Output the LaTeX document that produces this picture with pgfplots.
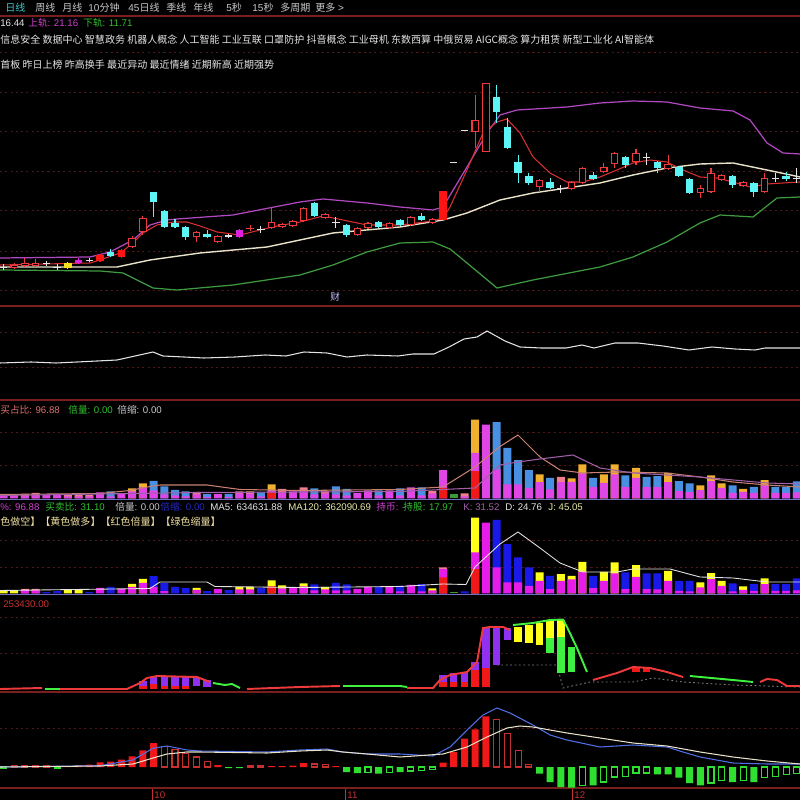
\documentclass[border=0pt]{standalone}
\usepackage{pgfplots}
\usepackage{pgfplotstable}
\pgfplotsset{compat=1.18}
\usepackage{fontspec}
\setmainfont{Liberation Sans}
\newfontfamily\cjk{Noto Sans CJK SC}
\definecolor{sep}{HTML}{7A1E1E}
\definecolor{gridc}{HTML}{4E1818}
\definecolor{cred}{HTML}{EE3A3A}
\definecolor{cfill}{HTML}{FF1414}
\definecolor{ccyan}{HTML}{5CF4F4}
\definecolor{cwhite}{HTML}{E4E4E4}
\definecolor{cmag}{HTML}{E020E0}
\definecolor{cyel}{HTML}{F2E020}
\definecolor{bup}{HTML}{B048C0}
\definecolor{bmid}{HTML}{E8E2C8}
\definecolor{blow}{HTML}{3E9A3E}
\definecolor{mared}{HTML}{D83030}
\definecolor{vblue}{HTML}{4A90E2}
\definecolor{vorange}{HTML}{F0B030}
\definecolor{vmag}{HTML}{E046E6}
\definecolor{vpink}{HTML}{F07E8C}
\definecolor{vred}{HTML}{F01818}
\definecolor{vgreen}{HTML}{3A9A3A}
\definecolor{kblue}{HTML}{1A1AE8}
\definecolor{kyel}{HTML}{FFFF1A}
\definecolor{kmag}{HTML}{E81CE8}
\definecolor{ppurple}{HTML}{9030F0}
\definecolor{pgreen}{HTML}{40F040}
\definecolor{mgreen}{HTML}{30E030}
\definecolor{mredh}{HTML}{C83030}
\definecolor{lsalmon}{HTML}{C88070}
\definecolor{lmauve}{HTML}{A060A8}
\definecolor{dblue}{HTML}{5070E8}
\definecolor{txt}{HTML}{E6E6E6}
\definecolor{menu}{HTML}{C8C8C8}
\definecolor{teal}{HTML}{40C8C8}
\definecolor{tmag}{HTML}{D040D0}
\definecolor{tgreen}{HTML}{30C030}
\definecolor{tsalmon}{HTML}{E07070}
\definecolor{tcream}{HTML}{F0E0A0}
\definecolor{tyel}{HTML}{E8E8A8}
\definecolor{tdblue}{HTML}{2828C0}
\definecolor{tred}{HTML}{C83030}
\definecolor{base}{HTML}{7070C0}

\pgfplotsset{
  panel/.style={scale only axis, width=16cm, xmin=0, xmax=800, axis lines=none, xtick=\empty, ytick=\empty, anchor=south west, clip=true},
  wick/.style={quiver={u=0, v=\thisrow{wb}-\thisrow{wt}}, -, mark=none, line width=0.6pt, line cap=butt, color=#1},
  body/.style 2 args={quiver={u=0, v=\thisrow{b}-\thisrow{t}}, -, mark=none, line width=#1, line cap=butt, color=#2},
  inner/.style={quiver={u=0, v=\thisrow{b}-\thisrow{t}-2}, -, mark=none, line width=0.105cm, line cap=butt, color=black},
  vbar/.style={ybar, bar width=8, bar shift=0pt, fill=#1, draw=none},
  mbar/.style={ybar, bar width=7, bar shift=0pt, fill=#1, draw=none},
  hbar/.style={ybar, bar width=6, bar shift=0pt, fill=black, draw=#1, line width=0.6pt},
}

% ---------- candles (pixel rows: body top, body bottom, wick top, wick bottom)
\pgfplotstableread{
x t b wt wb
14.2 265 268 263 269
24.9 263 266 258 267
35.7 263 266 259 267
132.1 238 247 236 248
142.9 218 232 216 235
196.5 232 237 231 242
217.9 236 242 235 243
271.5 222 228 208 229
282.2 224 227 223 228
292.9 221 226 220 227
303.7 208 221 207 222
325.1 214 218 213 219
357.3 228 235 227 236
368.0 223 228 222 229
389.4 223 228 222 229
410.9 217 225 216 226
432.3 219 223 218 224
475.2 120 132 95 148
485.9 83 152 83 152
539.5 180 187 179 192
571.7 182 189 181 190
582.4 168 183 167 184
603.8 167 172 163 173
614.5 153 164 152 168
636.0 153 162 149 165
668.1 164 169 155 170
700.3 188 193 185 198
711.0 173 192 168 193
721.7 175 180 174 181
743.2 182 186 181 187
764.6 178 192 173 193
}\candR
\pgfplotstableread{
x t b wt wb
100.0 255 261 254 262
121.4 250 257 249 258
443.0 191 220 191 220
}\candF
\pgfplotstableread{
x t b wt wb
110.7 252 256 249 257
153.6 192 202 192 217
164.3 211 227 210 228
175.0 223 227 219 228
185.7 227 237 226 240
207.2 234 237 230 238
314.4 203 216 202 217
346.5 225 235 224 237
378.7 222 227 221 228
400.1 220 225 219 226
421.6 216 220 213 221
496.6 97 112 85 123
507.3 127 148 118 149
518.1 162 173 155 183
528.8 176 183 173 185
550.2 182 188 178 189
593.1 175 179 172 180
625.3 157 165 156 168
657.4 162 168 161 173
678.9 167 176 166 177
689.6 179 193 178 194
732.5 176 185 175 188
753.9 183 192 182 197
786.1 176 179 172 181
}\candC
\pgfplotstableread{
x t b wt wb
3.5 267 268 264 270
46.4 263 264 261 266
57.1 267 268 264 270
89.3 260 261 258 262
228.6 235 237 234 238
260.8 229 230 226 233
335.8 222 223 217 228
453.7 162 163 162 163
464.5 130 131 130 131
560.9 188 189 185 193
646.7 157 158 153 165
775.3 178 179 173 182
796.8 178 179 168 183
}\candW
\pgfplotstableread{
x t b wt wb
250.1 228 229 225 231
}\candRD
\pgfplotstableread{
x t b wt wb
67.8 263 268 262 269
}\candY
\pgfplotstableread{
x t b wt wb
78.5 260 263 258 264
239.3 230 237 229 238
}\candM

% ---------- panel 3 (heights above baseline, px)
\pgfplotstableread{
x h
110.7 7
153.6 17.5
164.3 12
175.0 8.5
185.7 7
207.2 4.5
228.6 4.5
260.8 6
314.4 10
335.8 12
346.5 9.5
378.7 8
400.1 10
421.6 11
496.6 76.3
507.3 50.7
518.1 38.3
528.8 28.3
550.2 20.7
593.1 20.7
625.3 23
646.7 21.7
657.4 22.3
678.9 17.3
689.6 15
732.5 13
753.9 11.7
775.3 11.7
786.1 11.7
796.8 17
}\vB
\pgfplotstableread{
x h
132.1 10
142.9 15
250.1 7
271.5 14
475.2 79
539.5 24
571.7 20
582.4 34
603.8 24
614.5 34
636.0 30.7
668.1 25.7
700.3 13
711.0 23
721.7 15
743.2 9.7
764.6 18.3
}\vO
\pgfplotstableread{
x h
24.9 4.5
35.7 5.5
67.8 4
78.5 4
89.3 3.5
196.5 6.5
239.3 7
282.2 9.5
303.7 11
325.1 7
432.3 7.5
464.5 5
560.9 21.7
}\vP
\pgfplotstableread{
x h
3.5 3.5
14.2 3.5
24.9 2.5
35.7 3
46.4 3.5
57.1 3.5
67.8 2
78.5 2
89.3 2
100.0 6
110.7 2
121.4 5
132.1 7
142.9 11
153.6 8
164.3 4
175.0 3
185.7 2
196.5 4
207.2 1.5
217.9 4.5
228.6 1.5
239.3 5
250.1 5
260.8 2
271.5 8
282.2 6
292.9 7
303.7 8
314.4 4
325.1 5
335.8 4
346.5 3
357.3 5.5
368.0 8
378.7 3
389.4 8
400.1 3
410.9 11
421.6 3
432.3 5
443.0 28.3
464.5 2
475.2 45.7
485.9 74
496.6 29
507.3 14
518.1 14
528.8 10.7
539.5 16.3
550.2 9
560.9 16.3
571.7 16.7
582.4 25
593.1 11.7
603.8 15.7
614.5 24
625.3 11.7
636.0 20.7
646.7 11.7
657.4 11.7
668.1 16.3
678.9 7.3
689.6 6.3
700.3 8.3
711.0 17.3
721.7 10.7
732.5 5.7
743.2 6.7
753.9 5.7
764.6 13
775.3 5.7
786.1 5.7
796.8 6
}\vM
\pgfplotstableread{
x h
271.5 6
443.0 10.7
475.2 27.3
}\vR

% ---------- panel 4
\pgfplotstableread{
x h
46.4 1.3
57.1 2.3
89.3 1.3
110.7 6.7
153.6 17.3
164.3 10.7
175.0 6.7
185.7 5.7
207.2 2.3
228.6 3.3
260.8 5.7
314.4 9
335.8 10.7
346.5 9
378.7 6.7
400.1 7.7
421.6 9.3
464.5 2
496.6 73.7
507.3 49.3
518.1 36
528.8 26
550.2 17.7
593.1 17.7
625.3 21
646.7 20
657.4 20
678.9 12.7
689.6 12.7
732.5 10
753.9 9.3
775.3 9.3
786.1 9.3
796.8 15
}\kB
\pgfplotstableread{
x h
3.5 2.3
14.2 3.3
67.8 4
78.5 4
132.1 9.7
142.9 14.7
196.5 5.7
239.3 6.7
250.1 6.7
271.5 13
282.2 8
303.7 10
325.1 6.7
432.3 5
475.2 76
539.5 21
560.9 19.3
571.7 17.7
582.4 31.7
603.8 21.7
614.5 31
636.0 28.3
668.1 22.7
700.3 11
711.0 20.3
721.7 12.7
743.2 7
764.6 15
}\kY
\pgfplotstableread{
x h
24.9 4.7
35.7 4.7
443.0 26
}\kP
\pgfplotstableread{
x h
24.9 3
35.7 3
100.0 5.7
121.4 4.7
132.1 6.7
142.9 10.7
153.6 6.7
164.3 2.3
196.5 3.5
217.9 4.7
239.3 4
250.1 4
282.2 5
292.9 5.7
303.7 7
314.4 3
325.1 4
335.8 3
346.5 3
357.3 4.7
368.0 6.7
389.4 6.7
400.1 2
410.9 8.7
421.6 2
432.3 3
443.0 24.3
475.2 41
485.9 71
496.6 26
507.3 11
518.1 11
528.8 7.7
539.5 12.7
550.2 4.3
560.9 12.7
571.7 14
582.4 21.7
593.1 5.3
603.8 12.7
614.5 20
625.3 4.3
636.0 16.7
646.7 4.3
657.4 4
668.1 12.7
678.9 2.7
689.6 2
700.3 6
711.0 14.3
721.7 7.7
732.5 2
743.2 3.7
753.9 2.7
764.6 9.3
775.3 2.7
786.1 2.7
796.8 3
}\kM
\pgfplotstableread{
x h
271.5 7.3
443.0 16
475.2 24.3
}\kR

% ---------- panel 5 floating blocks (pixel rows)
\pgfplotstableread{
x t b
142.9 681 686
153.6 677 684
164.3 677 686
175.0 677 686
185.7 677 686
196.5 678 686
207.2 680 687
443.0 675 682
453.7 673 682
464.5 672 682
475.2 662 670
485.9 628 668
496.6 628 665
507.3 628 640
}\pP
\pgfplotstableread{
x t b
142.9 686 689
153.6 684 689
164.3 686 689
175.0 686 689
185.7 686 689
443.0 682 687
453.7 682 687
464.5 682 687
475.2 670 687
485.9 668 687
636.0 667 672
646.7 667 672
}\pR
\pgfplotstableread{
x t b
518.1 627 642
528.8 625 643
539.5 623 645
550.2 620 638
560.9 620 637
}\pY
\pgfplotstableread{
x t b
550.2 638 653
560.9 637 673
571.7 647 672
}\pG

% ---------- panel 6 (MACD-like, relative to zero row)
\pgfplotstableread{
x h
67.8 1
78.5 1.7
89.3 2.3
100.0 4.7
110.7 5.3
121.4 7.3
132.1 10.7
142.9 16.7
153.6 24
217.9 2
271.5 1
282.2 1
292.9 1.5
303.7 4
335.8 1
443.0 4.3
453.7 15
464.5 28.3
475.2 37.7
485.9 50.7
}\mR
\pgfplotstableread{
x h
14.2 1.5
24.9 1.5
35.7 1.5
46.4 1.5
164.3 20.7
175.0 17.3
185.7 13.3
196.5 10
207.2 5.7
250.1 1
260.8 1
314.4 3
325.1 2.5
496.6 47.7
507.3 33.3
518.1 16.7
528.8 2.7
}\mRH
\pgfplotstableread{
x h
228.6 -1
239.3 -1
346.5 -5
357.3 -6
378.7 -6.7
400.1 -5
539.5 -6.7
550.2 -15
560.9 -20
571.7 -20.7
593.1 -18.3
657.4 -7.3
668.1 -7.3
678.9 -10.7
689.6 -16
700.3 -18.3
732.5 -15
753.9 -15
}\mG
\pgfplotstableread{
x h
3.5 -1
57.1 -1
368.0 -5.3
389.4 -5.3
410.9 -4
421.6 -3.3
432.3 -2.7
582.4 -18.3
603.8 -15
614.5 -10
625.3 -9.3
636.0 -6
646.7 -6
711.0 -16
721.7 -13.3
743.2 -13.3
764.6 -10.7
775.3 -9.3
786.1 -7.3
796.8 -6.7
}\mGH

\tikzset{t/.style={anchor=west, inner sep=0pt, font=\fontsize{5.5}{6}\selectfont},
         tz/.style={anchor=west, inner sep=0pt, font=\fontsize{5.7}{6}\selectfont}}

\begin{document}
\begin{tikzpicture}
\useasboundingbox (0,0) rectangle (16cm,16cm);
\fill[black] (0,0) rectangle (16cm,16cm);
\clip (0,0) rectangle (16cm,16cm);

% grid and separators (pixel frame)
\begin{scope}[x=0.02cm, y=-0.02cm, shift={(0,16cm)}]
  \foreach \yy in {52,92,131,171,210,251,290,332,367,432,465,540,567,617,653,728}
    \draw[gridc, line width=0.5pt, dash pattern=on 1.2pt off 1.8pt] (0,\yy) -- (800,\yy);
  \foreach \yy in {16,306,400,692,788}
    \draw[sep, line width=0.8pt] (0,\yy) -- (800,\yy);
  \draw[base, line width=0.5pt] (0,499) -- (800,499);
  \draw[base, line width=0.5pt] (0,594) -- (800,594);
\end{scope}

% ===== main candlestick panel
\begin{axis}[panel, at={(0cm,9.88cm)}, height=5.8cm, y dir=reverse, ymin=16, ymax=306]
\addplot[bup, line width=0.7pt] coordinates {(0,258) (90,257) (110,252) (133,240) (150,225) (167,220) (177,219) (233,215) (300,202) (323,199) (367,203) (400,207) (433,210) (443,207) (467,167) (487,133) (500,115) (517,110) (567,107) (600,103) (633,101) (667,102) (700,108) (733,111) (750,120) (767,143) (783,153) (800,154)};
\addplot[bmid, line width=0.8pt] coordinates {(0,267) (117,267) (150,260) (200,253) (267,247) (333,233) (400,227) (443,220) (467,213) (500,200) (533,193) (567,188) (600,183) (633,175) (667,168) (700,164) (733,163) (767,170) (800,177)};
\addplot[blow, line width=0.7pt] coordinates {(0,270) (100,271) (123,273) (133,278) (153,288) (177,290) (233,285) (300,275) (333,265) (367,252) (400,243) (433,242) (450,249) (467,263) (497,288) (533,280) (600,267) (633,257) (667,242) (700,223) (720,215) (753,217) (777,198) (800,197)};
\addplot[mared, line width=0.6pt] coordinates {(0,265) (90,263) (100,260) (120,253) (133,243) (143,233) (157,225) (173,222) (187,222) (200,226) (217,232) (240,235) (260,230) (277,226) (300,222) (323,216) (343,220) (367,225) (400,225) (433,221) (443,218) (450,207) (467,170) (483,133) (497,122) (507,119) (520,133) (533,157) (550,173) (567,182) (583,182) (600,177) (617,170) (633,163) (650,160) (667,162) (683,170) (700,177) (717,178) (733,182) (750,187) (767,184) (783,183) (800,182)};
% wicks
\addplot[wick=cred] table[x=x, y=wt] {\candR};
\addplot[wick=cfill] table[x=x, y=wt] {\candF};
\addplot[wick=ccyan] table[x=x, y=wt] {\candC};
\addplot[wick=cwhite] table[x=x, y=wt] {\candW};
\addplot[wick=cred] table[x=x, y=wt] {\candRD};
\addplot[wick=cyel] table[x=x, y=wt] {\candY};
\addplot[wick=cmag] table[x=x, y=wt] {\candM};
% bodies
\addplot[body={0.15cm}{cred}] table[x=x, y=t] {\candR};
\addplot[inner] table[x=x, y expr=\thisrow{t}+1] {\candR};
\addplot[body={0.15cm}{cfill}] table[x=x, y=t] {\candF};
\addplot[body={0.15cm}{ccyan}] table[x=x, y=t] {\candC};
\addplot[body={0.15cm}{cwhite}] table[x=x, y=t] {\candW};
\addplot[body={0.15cm}{cred}] table[x=x, y=t] {\candRD};
\addplot[body={0.15cm}{cyel}] table[x=x, y=t] {\candY};
\addplot[body={0.15cm}{cmag}] table[x=x, y=t] {\candM};
\end{axis}

% ===== panel 2: single white line
\begin{axis}[panel, at={(0cm,8cm)}, height=1.88cm, y dir=reverse, ymin=306, ymax=400]
\addplot[cwhite, line width=0.6pt] coordinates {(0,363) (31,362) (56,363) (77,362) (117,360) (135,356) (153,352) (163,356) (184,357) (204,358) (235,357) (265,355) (286,356) (304,352) (327,353) (347,357) (367,355) (398,356) (413,354) (434,354) (449,347) (464,339) (477,337) (487,331) (505,341) (520,347) (541,348) (566,348) (582,345) (594,348) (615,343) (638,343) (663,346) (689,350) (712,347) (735,349) (755,350) (765,348) (800,348)};
\end{axis}

% ===== panel 3: buy ratio bars
\begin{axis}[panel, at={(0cm,6.03cm)}, height=1.97cm, ymin=0, ymax=98.5]
\addplot[vbar=vblue] table[x=x, y=h] {\vB};
\addplot[vbar=vorange] table[x=x, y=h] {\vO};
\addplot[vbar=vpink] table[x=x, y=h] {\vP};
\addplot[vbar=vmag] table[x=x, y=h] {\vM};
\addplot[vbar=vred] table[x=x, y=h] {\vR};
\addplot[vbar=vgreen] coordinates {(453.7,4)};
\addplot[lsalmon, line width=0.6pt] coordinates {(0,4) (100,5) (130,8) (150,12) (160,13.5) (207,13.5) (240,9) (300,8) (400,9) (443,11.5) (475,31.5) (500,52) (518,63.5) (540,41.5) (560,28.5) (583,25.5) (617,26.5) (667,25.5) (700,21.5) (733,16.5) (767,13.5) (800,11.5)};
\addplot[lmauve, line width=0.6pt] coordinates {(0,3) (200,6) (400,7) (443,9) (475,10.5) (500,33.5) (518,36.5) (540,39.5) (573,43.5) (600,30.5) (633,25.5) (700,21.5) (767,15.5) (800,14.5)};
\end{axis}

% ===== panel 4
\begin{axis}[panel, at={(0cm,4.13cm)}, height=1.63cm, ymin=0, ymax=81.5]
\addplot[vbar=kblue] table[x=x, y=h] {\kB};
\addplot[vbar=kyel] table[x=x, y=h] {\kY};
\addplot[vbar=vpink] table[x=x, y=h] {\kP};
\addplot[vbar=kmag] table[x=x, y=h] {\kM};
\addplot[vbar=vred] table[x=x, y=h] {\kR};
\addplot[vbar=vgreen] coordinates {(453.7,1.5)};
\addplot[cwhite, line width=0.5pt] coordinates {(0,3) (150,5) (160,11.5) (207,11.5) (215,7) (300,6) (400,7) (443,9.5) (466,9) (475,26.5) (500,49.5) (518,61.5) (540,45.5) (560,30.5) (583,21.5) (617,21.5) (633,24.5) (670,24.5) (700,16.5) (733,15.5) (767,11.5) (800,11.5)};
\end{axis}

% ===== panel 5
\begin{axis}[panel, at={(0cm,2.16cm)}, height=1.88cm, y dir=reverse, ymin=598, ymax=692]
\addplot[gray, line width=0.5pt, dash pattern=on 1pt off 1.5pt] coordinates {(497,665) (557,665) (563,688) (590,682) (633,682) (653,678) (683,682) (733,685) (800,687)};
\addplot[body={0.15cm}{ppurple}] table[x=x, y=t] {\pP};
\addplot[body={0.15cm}{vred}] table[x=x, y=t] {\pR};
\addplot[body={0.15cm}{kyel}] table[x=x, y=t] {\pY};
\addplot[body={0.15cm}{pgreen}] table[x=x, y=t] {\pG};
\addplot[cred, line width=1.1pt] coordinates {(0,689) (42,688)};
\addplot[pgreen, line width=1.1pt] coordinates {(45,689) (60,689)};
\addplot[cred, line width=1.1pt] coordinates {(60,689) (127,689) (140,683) (147,678) (157,676) (197,677) (210,682)};
\addplot[pgreen, line width=1.1pt] coordinates {(213,683) (225,685) (232,684) (240,688)};
\addplot[cred, line width=1.1pt] coordinates {(247,689) (300,687) (340,686)};
\addplot[pgreen, line width=1.1pt] coordinates {(343,686) (400,686) (407,687)};
\addplot[cred, line width=1.1pt] coordinates {(407,688) (433,688) (440,680) (450,675) (467,672) (477,662) (483,628) (490,627) (503,627) (510,630)};
\addplot[pgreen, line width=1.1pt] coordinates {(513,625) (533,623) (550,620) (563,619.5) (567,627) (577,648) (587,672)};
\addplot[cred, line width=1.1pt] coordinates {(593,680) (617,673) (633,667) (650,668) (667,672) (683,677)};
\addplot[pgreen, line width=1.1pt] coordinates {(690,676) (733,680) (753,682)};
\addplot[cred, line width=1.1pt] coordinates {(760,682) (767,679) (777,680) (787,686) (800,686)};
\end{axis}

% ===== panel 6 (MACD)
\begin{axis}[panel, at={(0cm,0.2cm)}, height=1.96cm, ymin=-23, ymax=75]
\addplot[mbar=vred] table[x=x, y=h] {\mR};
\addplot[hbar=mredh] table[x=x, y=h] {\mRH};
\addplot[mbar=mgreen] table[x=x, y=h] {\mG};
\addplot[hbar=mgreen] table[x=x, y=h] {\mGH};
\addplot[dblue, line width=0.6pt] coordinates {(0,0) (100,1.3) (133,7) (153,18.7) (167,21) (187,17) (200,16) (267,15) (300,17) (327,18) (343,15) (367,13) (400,13) (433,11) (450,20) (467,37) (483,52) (497,59) (510,54) (533,42) (550,32) (567,27) (600,20) (633,22) (667,20) (683,15) (700,10) (733,4) (767,3) (800,3)};
\addplot[bmid, line width=0.6pt] coordinates {(0,0) (100,1) (133,3) (153,9) (167,13) (187,15) (200,15) (267,14) (300,16) (327,17) (343,15) (367,13) (400,10) (443,13) (467,20) (487,30) (507,39) (520,41) (533,40) (567,34) (600,29) (633,24) (667,21) (700,15) (733,10) (767,6) (800,3)};
\end{axis}

% ===== texts (pixel frame)
\begin{scope}[x=0.02cm, y=-0.02cm, shift={(0,16cm)}]
  \node[tz, text=teal] at (5,8) {\cjk 日线};
  \node[tz, text=menu] at (35,8) {\cjk 周线};
  \node[tz, text=menu] at (62,8) {\cjk 月线};
  \node[tz, text=menu] at (88,8) {10{\cjk 分钟}};
  \node[tz, text=menu] at (128,8) {45{\cjk 日线}};
  \node[tz, text=menu] at (166,8) {\cjk 季线};
  \node[tz, text=menu] at (193,8) {\cjk 年线};
  \node[tz, text=menu] at (226,8) {5{\cjk 秒}};
  \node[tz, text=menu] at (252,8) {15{\cjk 秒}};
  \node[tz, text=menu] at (280,8) {\cjk 多周期};
  \node[tz, text=menu] at (315,8) {{\cjk 更多} >};
  \node[t, text=txt] at (0,23) {16.44};
  \node[t, text=tmag] at (28,23) {{\cjk 上轨}: 21.16};
  \node[t, text=tgreen] at (83,23) {{\cjk 下轨}: 11.71};
  \node[tz, text=txt] at (0,40) {\cjk 信息安全 数据中心 智慧政务 机器人概念 人工智能 工业互联 口罩防护 抖音概念 工业母机 东数西算 中俄贸易 AIGC概念 算力租赁 新型工业化 AI智能体};
  \node[tz, text=txt] at (0,65) {\cjk 首板 昨日上榜 昨高换手 最近异动 最近情绪 近期新高 近期强势};
  \node[t, text=blue!25!white] at (330,297) {\cjk 财};
  \node[t, text=tsalmon] at (0,410) {{\cjk 买占比}: 96.88};
  \node[t, text=tgreen] at (68,410) {{\cjk 倍量}: 0.00};
  \node[t, text=menu] at (117,410) {{\cjk 倍缩}: 0.00};
  \node[t, text=tmag] at (0,507) {\%: 96.88};
  \node[t, text=tgreen] at (45,507) {{\cjk 买卖比}: 31.10};
  \node[t, text=menu] at (115,507) {{\cjk 倍量}: 0.00};
  \node[t, text=tdblue] at (160,507) {{\cjk 倍缩}: 0.00};
  \node[t, text=txt] at (210,507) {MA5: 634631.88};
  \node[t, text=tyel] at (288,507) {MA120: 362090.69};
  \node[t, text=tmag] at (376,507) {{\cjk 持币}: -};
  \node[t, text=tgreen] at (403,507) {{\cjk 持股}: 17.97};
  \node[t, text=lmauve] at (463,507) {K: 31.52};
  \node[t, text=txt] at (505,507) {D: 24.76};
  \node[t, text=tyel] at (548,507) {J: 45.05};
  \node[tz, text=tcream] at (0,522) {\cjk 色做空】【黄色做多】【红色倍量】【绿色缩量】};
  \node[t, text=tred] at (3,604) {253430.00};
  \foreach \xx/\lab in {152/10, 345/11, 572/12} {
    \draw[tred, line width=0.6pt] (\xx,789) -- (\xx,800);
    \node[t, text=tred] at (\xx+2,795) {\lab};
  }
\end{scope}
\end{tikzpicture}
\end{document}
